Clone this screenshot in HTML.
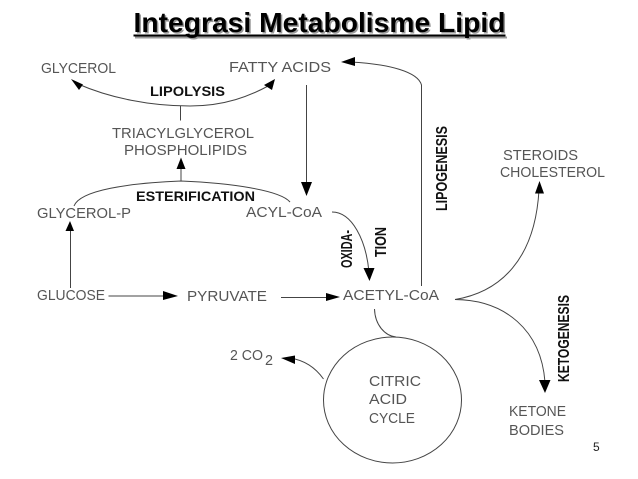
<!DOCTYPE html>
<html>
<head>
<meta charset="utf-8">
<style>
html,body{margin:0;padding:0;background:#fff;width:638px;height:479px;overflow:hidden}
svg{display:block}
.t{font-family:"Liberation Sans",sans-serif;font-size:15px;fill:#555}
.b{font-family:"Liberation Sans",sans-serif;font-size:14px;font-weight:bold;fill:#111}
.v{font-family:"Liberation Sans",sans-serif;font-size:15.500px;font-weight:bold;fill:#111}
.l{fill:none;stroke:#444;stroke-width:1}
.h{fill:#000;stroke:none}
</style>
</head>
<body>
<svg width="638" height="479" viewBox="0 0 638 479" xmlns="http://www.w3.org/2000/svg">
<rect width="638" height="479" fill="#fff"/>
<!-- title -->
<g font-family="'Liberation Sans',sans-serif" font-weight="bold" font-size="28">
<text x="135" y="33.500" fill="#999" textLength="372" lengthAdjust="spacingAndGlyphs">Integrasi Metabolisme Lipid</text>
<rect x="135" y="36.500" width="372" height="2" fill="#999"/>
<text x="133.500" y="32" fill="#000" textLength="372" lengthAdjust="spacingAndGlyphs">Integrasi Metabolisme Lipid</text>
<rect x="133.500" y="34.500" width="372" height="2" fill="#000"/>
</g>
<!-- labels -->
<text class="t" x="41" y="73" textLength="75" lengthAdjust="spacingAndGlyphs">GLYCEROL</text>
<text class="t" x="229" y="72" textLength="102" lengthAdjust="spacingAndGlyphs">FATTY ACIDS</text>
<text class="t" x="112" y="138" textLength="142" lengthAdjust="spacingAndGlyphs">TRIACYLGLYCEROL</text>
<text class="t" x="124" y="155" textLength="123" lengthAdjust="spacingAndGlyphs">PHOSPHOLIPIDS</text>
<text class="t" x="37" y="218" textLength="94" lengthAdjust="spacingAndGlyphs">GLYCEROL-P</text>
<text class="t" x="246" y="217" textLength="76" lengthAdjust="spacingAndGlyphs">ACYL-CoA</text>
<text class="t" x="37" y="300" textLength="68" lengthAdjust="spacingAndGlyphs">GLUCOSE</text>
<text class="t" x="187" y="301" textLength="80" lengthAdjust="spacingAndGlyphs">PYRUVATE</text>
<text class="t" x="343" y="300" textLength="96" lengthAdjust="spacingAndGlyphs">ACETYL-CoA</text>
<text class="t" x="230" y="360" textLength="33" lengthAdjust="spacingAndGlyphs">2 CO</text>
<text class="t" x="265" y="365" textLength="8" lengthAdjust="spacingAndGlyphs">2</text>
<text class="t" x="369" y="386" textLength="52" lengthAdjust="spacingAndGlyphs">CITRIC</text>
<text class="t" x="369" y="404" textLength="38" lengthAdjust="spacingAndGlyphs">ACID</text>
<text class="t" x="369" y="423" textLength="46" lengthAdjust="spacingAndGlyphs">CYCLE</text>
<text class="t" x="509" y="416" textLength="57" lengthAdjust="spacingAndGlyphs">KETONE</text>
<text class="t" x="509" y="435" textLength="55" lengthAdjust="spacingAndGlyphs">BODIES</text>
<text class="t" x="503" y="160" textLength="75" lengthAdjust="spacingAndGlyphs">STEROIDS</text>
<text class="t" x="500" y="177" textLength="105" lengthAdjust="spacingAndGlyphs">CHOLESTEROL</text>
<text x="593" y="451" font-family="'Liberation Sans',sans-serif" font-size="12" fill="#222">5</text>
<!-- bold labels -->
<text class="b" x="150" y="96" textLength="75" lengthAdjust="spacingAndGlyphs">LIPOLYSIS</text>
<text class="b" x="136" y="201" textLength="119" lengthAdjust="spacingAndGlyphs">ESTERIFICATION</text>
<text class="v" transform="translate(447,211) rotate(-90)" textLength="85" lengthAdjust="spacingAndGlyphs">LIPOGENESIS</text>
<text class="v" transform="translate(569,382) rotate(-90)" textLength="87" lengthAdjust="spacingAndGlyphs">KETOGENESIS</text>
<text class="v" transform="translate(352,268) rotate(-90)" textLength="38" lengthAdjust="spacingAndGlyphs">OXIDA-</text>
<text class="v" transform="translate(386,257) rotate(-90)" textLength="30" lengthAdjust="spacingAndGlyphs">TION</text>
<!-- connectors -->
<path class="l" d="M78 84C110 98,150 106,190 106C225 106,250 96,270 85"/>
<path class="l" d="M180.500 106V120.500"/>
<path class="h" d="M71 79L83 84.500L79 90Z"/>
<path class="h" d="M275 79L272 90L264 85Z"/>
<path class="l" d="M74 206C80 190,130 183,181 181C230 183,280 190,290 202"/>
<path class="l" d="M181 181V164"/>
<path class="h" d="M181 157.500L185.500 169H176.500Z"/>
<path class="l" d="M306.500 85V185"/>
<path class="h" d="M301 182H312L306.500 196Z"/>
<path class="l" d="M70.500 288V228"/>
<path class="h" d="M70 221L74 231H65.500Z"/>
<path class="l" d="M108.500 296H170"/>
<path class="h" d="M163 291L178 296L163 300Z"/>
<path class="l" d="M281 297.500H335"/>
<path class="h" d="M326 293L340 297L326 301Z"/>
<path class="l" d="M421.500 286V85C418 72,390 64,350 62"/>
<path class="h" d="M341 62L355 57V66Z"/>
<path class="l" d="M332 212C352 212,366 240,369 272"/>
<path class="h" d="M363.500 268H374.500L369.500 281Z"/>
<path class="l" d="M455 299.500C500 292,535 260,539 190"/>
<path class="h" d="M539.500 181L544 193.500H535Z"/>
<path class="l" d="M455 299.500C505 300,541 330,545 382"/>
<path class="h" d="M539 380H550.500L545 393Z"/>
<path class="l" d="M374.500 309C375 325,385 336,396 337"/>
<ellipse class="l" cx="392.500" cy="400" rx="69" ry="63"/>
<path class="l" d="M323.500 379C315 367,303 360,290 358"/>
<path class="h" d="M281 358L295 355.500V364Z"/>
</svg>
</body>
</html>
